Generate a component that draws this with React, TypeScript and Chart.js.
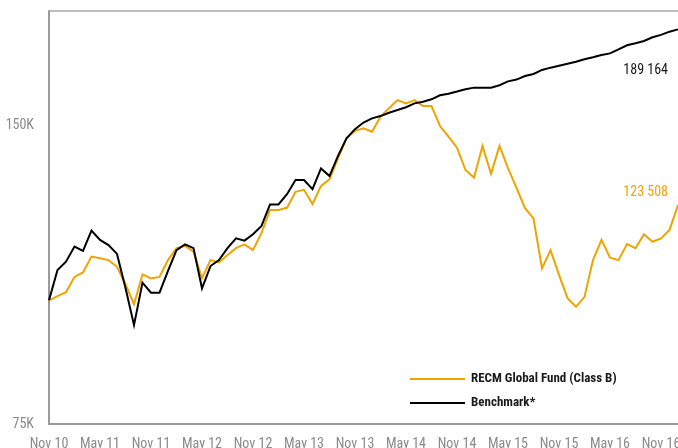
import React, { useEffect, useRef } from "react";
import { Chart, registerables } from "chart.js";

Chart.register(...registerables);

const MONTH_NAMES = ["Jan", "Feb", "Mar", "Apr", "May", "Jun", "Jul", "Aug", "Sep", "Oct", "Nov", "Dec"];
const categories: string[] = [];
for (let i = 0; i < 75; i++) {
  const m = (10 + i) % 12;
  const yr = 10 + Math.floor((10 + i) / 12);
  categories.push(`${MONTH_NAMES[m]} ${yr}`);
}

const benchmark = [
  100.0, 107.3, 109.4, 113.3, 112.2, 117.6, 115.1, 113.7, 111.4, 102.9,
  94.4, 104.2, 101.8, 101.8, 107.1, 112.4, 113.9, 112.9, 102.8, 108.3,
  109.8, 112.9, 115.5, 114.9, 116.6, 118.9, 125.0, 125.0, 128.0, 132.3,
  132.3, 129.5, 135.9, 133.5, 139.9, 145.8, 148.9, 151.2, 152.7, 153.5,
  154.7, 155.7, 156.7, 158.1, 158.7, 159.6, 161.1, 161.7, 162.5, 163.4,
  164.0, 164.0, 164.0, 164.9, 166.4, 167.1, 168.5, 169.3, 170.9, 171.8,
  172.6, 173.4, 174.2, 175.2, 176.0, 176.9, 177.6, 179.3, 181.0, 181.8,
  182.8, 184.4, 185.4, 186.8, 187.8,
];

const recm = [
  100.0, 101.0, 101.9, 105.6, 106.7, 110.7, 110.3, 109.8, 108.1, 103.8,
  99.1, 106.2, 105.2, 105.6, 109.8, 112.9, 113.5, 112.0, 105.3, 109.8,
  109.2, 111.1, 112.9, 113.9, 112.4, 116.9, 123.4, 123.4, 124.0, 128.7,
  129.3, 125.1, 130.5, 132.5, 139.1, 145.8, 148.3, 149.2, 148.0, 153.3,
  156.3, 159.3, 158.1, 159.3, 157.1, 157.1, 150.0, 146.3, 142.6, 135.4,
  133.0, 143.2, 134.2, 143.2, 136.0, 129.9, 123.9, 121.0, 107.7, 112.4,
  106.1, 100.5, 98.5, 100.8, 109.8, 115.1, 110.4, 109.8, 114.0, 112.9,
  116.6, 114.6, 115.5, 117.8, 124.8,
];

const yTickValues = [75000, 150000];
const yTickLabels = ["75K", "150K"];
const seriesNames = ["RECM Global Fund (Class B)", "Benchmark*"];
const endLabels = ["189 164", "123 508"];

const ORANGE = "#EFA400";
const BLACK = "#000000";
const AXIS_GRAY = "#9a9a9a";
const TICK_GRAY = "#8a8a8a";
const FONT = "'Liberation Sans Narrow', 'Roboto Condensed', 'DejaVu Sans Condensed', sans-serif";

const decorPlugin = {
  id: "decor",
  afterDraw(chart: any) {
    const { ctx, chartArea } = chart;
    const { left, top } = chartArea;
    ctx.save();
    // top frame line
    ctx.strokeStyle = "#a8a8a8";
    ctx.lineWidth = 1.5;
    ctx.beginPath();
    ctx.moveTo(left - 1, top);
    ctx.lineTo(chart.width, top);
    ctx.stroke();

    // legend
    const lx0 = left + 361;
    const lx1 = left + 416;
    const ly = [top + 368, top + 392];
    const colors = [ORANGE, BLACK];
    ctx.lineWidth = 2;
    ctx.font = `bold 13px ${FONT}`;
    ctx.textBaseline = "middle";
    ctx.textAlign = "left";
    for (let i = 0; i < 2; i++) {
      ctx.strokeStyle = colors[i];
      ctx.beginPath();
      ctx.moveTo(lx0, ly[i]);
      ctx.lineTo(lx1, ly[i]);
      ctx.stroke();
      ctx.fillStyle = "#1a1a1a";
      ctx.fillText(seriesNames[i], lx1 + 6, ly[i]);
    }

    // end value labels
    ctx.font = `14px ${FONT}`;
    ctx.textAlign = "right";
    ctx.fillStyle = "#1a1a1a";
    ctx.fillText(endLabels[0], left + 619, top + 59);
    ctx.fillStyle = ORANGE;
    ctx.fillText(endLabels[1], left + 619, top + 181);
    ctx.restore();
  },
};

export default function App() {
  const canvasRef = useRef<HTMLCanvasElement | null>(null);

  useEffect(() => {
    const canvas = canvasRef.current;
    if (!canvas) return;
    const chart = new Chart(canvas, {
      type: "line",
      data: {
        labels: categories,
        datasets: [
          {
            label: seriesNames[1],
            data: benchmark.map((v) => v * 1000),
            borderColor: BLACK,
            backgroundColor: BLACK,
            borderWidth: 2,
            pointRadius: 0,
            tension: 0,
          },
          {
            label: seriesNames[0],
            data: recm.map((v) => v * 1000),
            borderColor: ORANGE,
            backgroundColor: ORANGE,
            borderWidth: 2,
            pointRadius: 0,
            tension: 0,
          },
        ],
      },
      options: {
        animation: false,
        responsive: false,
        devicePixelRatio: 1,
        layout: { padding: { top: 11, right: 12, left: 0, bottom: 0 } },
        plugins: {
          legend: { display: false },
          tooltip: { enabled: false },
          title: { display: false },
        },
        scales: {
          x: {
            type: "category",
            offset: false,
            grid: { display: false, drawTicks: false },
            border: { display: true, color: AXIS_GRAY, width: 2 },
            ticks: {
              autoSkip: false,
              maxRotation: 0,
              minRotation: 0,
              padding: 12,
              color: TICK_GRAY,
              font: { family: FONT, size: 14 },
            },
            afterBuildTicks: (scale: any) => {
              scale.ticks = scale.ticks.filter((t: any) => t.value % 6 === 0);
            },
            afterFit: (scale: any) => {
              scale.height = 46;
              scale.paddingLeft = 0;
              scale.paddingRight = 0;
            },
          },
          y: {
            type: "logarithmic",
            min: 75000,
            max: 196000,
            grid: { display: false, drawTicks: false },
            border: { display: true, color: AXIS_GRAY, width: 2 },
            ticks: {
              padding: 15,
              color: TICK_GRAY,
              font: { family: FONT, size: 14 },
              callback: (value: any) => {
                const idx = yTickValues.indexOf(Number(value));
                return idx >= 0 ? yTickLabels[idx] : "";
              },
            },
            afterBuildTicks: (scale: any) => {
              scale.ticks = yTickValues.map((v) => ({ value: v }));
            },
            afterFit: (scale: any) => {
              scale.width = 49;
              scale.paddingTop = 0;
              scale.paddingBottom = 0;
            },
          },
        },
      },
      plugins: [decorPlugin],
    } as any);
    return () => chart.destroy();
  }, []);

  return (
    <div style={{ position: "fixed", left: 0, top: 0, width: 690, height: 470, background: "#fff" }}>
      <canvas ref={canvasRef} width={690} height={470} style={{ display: "block" }} />
    </div>
  );
}
